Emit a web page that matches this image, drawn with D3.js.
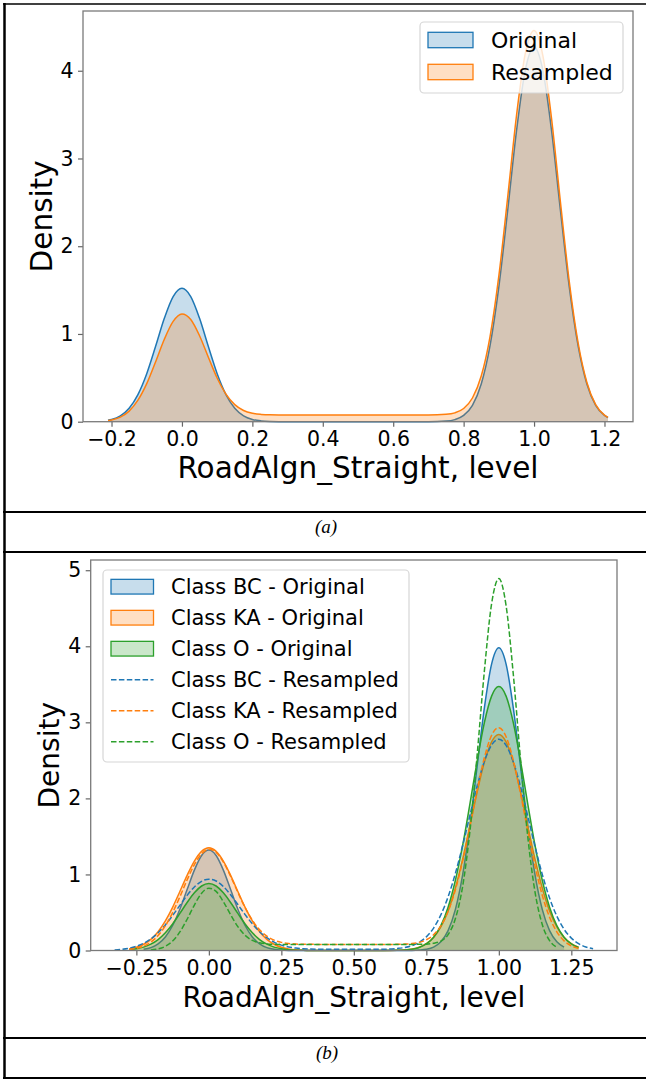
<!DOCTYPE html>
<html>
<head>
<meta charset="utf-8">
<script src="https://cdn.jsdelivr.net/npm/d3@7"></script>
<style>
body{margin:0;background:#fff;}
svg{display:block;font-family:"DejaVu Sans",sans-serif;}
</style>
</head>
<body>
<div id="plot"></div>
<script>
//Panel (a): density of RoadAlgn_Straight, original vs resampled
var xsA = [-0.21,-0.2,-0.175,-0.15,-0.125,-0.1,-0.075,-0.05,-0.025,0,0.025,0.05,0.075,0.1,0.125,0.15,0.175,0.2,0.225,0.25,
	0.3,0.4,0.5,0.6,0.7,0.75,0.775,0.8,0.825,0.85,0.875,0.9,0.925,0.95,0.975,1,1.025,1.05,1.075,1.1,1.125,1.15,1.175,1.2,1.21];
var originalA = [0.017,0.026,0.067,0.153,0.309,0.547,0.856,1.178,1.426,1.52,1.426,1.178,0.856,0.547,0.309,0.153,0.067,0.026,0.009,0.003,
	0,0,0,0,0,0.007,0.024,0.072,0.187,0.430,0.867,1.537,2.404,3.309,4.005,4.27,4.005,3.309,2.404,1.537,0.867,0.430,0.187,0.072,0.047];
var resampledA = [0.013,0.020,0.053,0.121,0.245,0.434,0.681,0.940,1.143,1.228,1.165,0.980,0.735,0.498,0.315,0.195,0.128,0.096,0.083,0.078,
	0.076,0.076,0.076,0.076,0.076,0.084,0.101,0.151,0.270,0.520,0.970,1.661,2.553,3.484,4.195,4.458,4.173,3.444,2.499,1.597,0.900,0.446,0.194,0.075,0.049];
var xTicksA = [-0.2,0,0.2,0.4,0.6,0.8,1.0,1.2];
var yTicksA = [0,1,2,3,4];
var labelsA = ['Original','Resampled'];

//Panel (b): same variable split by class
var xsB = [-0.325,-0.3,-0.275,-0.25,-0.225,-0.2,-0.175,-0.15,-0.125,-0.1,-0.075,-0.05,-0.025,0,0.025,0.05,0.075,0.1,0.125,0.15,
	0.175,0.2,0.225,0.25,0.275,0.3,0.325,0.35,0.4,0.5,0.6,0.65,0.675,0.7,0.725,0.75,0.775,0.8,0.825,0.85,
	0.875,0.9,0.925,0.95,0.975,1,1.025,1.05,1.075,1.1,1.125,1.15,1.175,1.2,1.225,1.25,1.275,1.3,1.325];
var bcOriginal = [null,null,null,null,0.015,0.038,0.087,0.178,0.329,0.543,0.801,1.057,1.249,1.32,1.249,1.057,0.801,0.543,0.329,0.178,
	0.087,0.038,0.015,0.005,0.001,0,0,0,0,0,0,0,0,0.001,0.005,0.015,0.044,0.114,0.261,0.537,
	0.991,1.636,2.416,3.188,3.765,3.98,3.765,3.188,2.416,1.636,0.991,0.537,0.261,0.114,0.044,null,null,null,null];
var kaOriginal = [null,null,0.020,0.042,0.082,0.147,0.247,0.389,0.568,0.776,0.988,1.176,1.304,1.35,1.304,1.176,0.988,0.776,0.568,0.389,
	0.247,0.147,0.082,0.042,0.020,0.009,0.004,0.001,0,0,0,0.003,0.008,0.019,0.043,0.089,0.172,0.310,0.520,0.818,
	1.196,1.633,2.079,2.474,2.743,2.84,2.743,2.474,2.079,1.633,1.196,0.818,0.520,0.310,0.172,0.089,0.043,null,null];
var oOriginal = [null,null,0.010,0.022,0.044,0.083,0.144,0.233,0.349,0.488,0.631,0.759,0.848,0.88,0.848,0.759,0.631,0.488,0.349,0.233,
	0.144,0.083,0.044,0.022,0.010,0.004,0.002,0.001,0,0,0,0.002,0.007,0.017,0.040,0.086,0.174,0.327,0.569,0.920,
	1.378,1.922,2.488,2.995,3.345,3.47,3.345,2.995,2.488,1.922,1.378,0.920,0.569,0.327,0.174,0.086,0.040,null,null];
var bcResampled = [0.008,0.016,0.030,0.055,0.094,0.152,0.233,0.336,0.460,0.594,0.725,0.835,0.910,0.938,0.914,0.841,0.733,0.604,0.472,0.350,
	0.247,0.168,0.110,0.071,0.046,0.032,0.024,0.020,0.016,0.016,0.017,0.027,0.039,0.063,0.106,0.179,0.295,0.468,0.705,1.012,
	1.377,1.772,2.159,2.485,2.702,2.778,2.698,2.479,2.151,1.762,1.365,0.998,0.690,0.452,0.279,0.163,0.090,0.047,0.023];
var kaResampled = [null,null,0.012,0.027,0.057,0.110,0.197,0.325,0.498,0.706,0.928,1.129,1.272,1.33,1.290,1.163,0.976,0.764,0.564,0.397,
	0.273,0.188,0.137,0.107,0.092,0.085,0.082,0.081,0.08,0.08,0.08,0.081,0.084,0.091,0.107,0.141,0.206,0.324,0.514,0.796,
	1.174,1.627,2.107,2.534,2.829,2.930,2.811,2.500,2.059,1.569,1.108,0.724,0.438,0.246,0.127,0.061,0.027,null,null];
var oResampled = [null,null,null,null,null,0.007,0.021,0.055,0.124,0.244,0.411,0.598,0.753,0.820,0.777,0.642,0.471,0.314,0.200,0.133,
	0.101,0.087,0.082,0.080,0.08,0.08,0.08,0.08,0.08,0.08,0.08,0.08,0.08,0.08,0.081,0.083,0.095,0.123,0.209,0.417,
	0.839,1.559,2.563,3.670,4.558,4.890,4.534,3.626,2.503,1.489,0.763,0.339,0.129,0.043,null,null,null,null,null];
var xTicksB = [-0.25,0,0.25,0.5,0.75,1.0,1.25];
var yTicksB = [0,1,2,3,4,5];
var labelsB = ['Class BC - Original','Class KA - Original','Class O - Original',
	'Class BC - Resampled','Class KA - Resampled','Class O - Resampled'];

var blue = '#1f77b4', orange = '#ff7f0e', green = '#2ca02c';

var W = 646, H = 1079;
var svg = d3.select('#plot')
	.append('svg')
	.attr('width',W)
	.attr('height',H);

//table borders round the two figures
var frame = svg.append('g').attr('stroke','#000');
frame.append('line').attr('x1',3).attr('x2',W).attr('y1',4).attr('y2',4).attr('stroke-width',1.5);
frame.append('line').attr('x1',4.5).attr('x2',4.5).attr('y1',3).attr('y2',1079).attr('stroke-width',2.5);
[512,552,1038,1078].forEach(function(yy){
	frame.append('line').attr('x1',3).attr('x2',W).attr('y1',yy).attr('y2',yy).attr('stroke-width',2);
});

svg.append('text').attr('x',326).attr('y',533).attr('text-anchor','middle')
	.style('font-family','"Liberation Serif",serif').style('font-style','italic').style('font-size','19px').text('(a)');
svg.append('text').attr('x',327).attr('y',1059).attr('text-anchor','middle')
	.style('font-family','"Liberation Serif",serif').style('font-style','italic').style('font-size','19px').text('(b)');

//padded domain like matplotlib (5% margins)
function pad(lo,hi){ var m=(hi-lo)*0.05; return [lo-m,hi+m]; }

function drawAxes(box, x, y, xTicks, yTicks, fmt, ylabX){
	var g = svg.append('g');
	g.append('g')
		.attr('transform','translate(0,'+box.b+')')
		.call(d3.axisBottom(x).tickValues(xTicks).tickSize(5).tickPadding(5).tickFormat(fmt));
	g.append('g')
		.attr('transform','translate('+box.l+',0)')
		.call(d3.axisLeft(y).tickValues(yTicks).tickSize(5).tickPadding(4.5).tickFormat(d3.format('d')));
	g.selectAll('.domain').remove();
	g.selectAll('.tick line').attr('stroke','#666').attr('stroke-width',1.2);
	g.selectAll('.tick text').attr('fill','#000').style('font-size','20.5px').style('font-family','"DejaVu Sans",sans-serif');
	g.append('rect')
		.attr('x',box.l).attr('y',box.t)
		.attr('width',box.r-box.l).attr('height',box.b-box.t)
		.attr('fill','none').attr('stroke','#7a7a7a').attr('stroke-width',1.3);
	g.append('text')
		.attr('x',(box.l+box.r)/2).attr('y',box.b+box.xl)
		.attr('text-anchor','middle').style('font-size',box.fs+'px')
		.text('RoadAlgn_Straight, level');
	g.append('text')
		.attr('transform','translate('+ylabX+','+(box.t+box.b)/2+') rotate(-90)')
		.attr('text-anchor','middle').style('font-size',box.fs+'px')
		.text('Density');
}

function drawKde(x, y, xs, vals, color, filled, dashed){
	var pts = xs.map(function(v,i){ return {x:v, y:vals[i]}; });
	var ok = function(d){ return d.y!=null; };
	if(filled){
		svg.append('path')
			.datum(pts)
			.attr('d', d3.area().defined(ok).curve(d3.curveMonotoneX)
				.x(function(d){return x(d.x);}).y0(y(0)).y1(function(d){return y(d.y);}))
			.attr('fill',color).attr('fill-opacity',0.25);
	}
	svg.append('path')
		.datum(pts)
		.attr('d', d3.line().defined(ok).curve(d3.curveMonotoneX)
			.x(function(d){return x(d.x);}).y(function(d){return y(d.y);}))
		.attr('fill','none').attr('stroke',color).attr('stroke-width',1.5)
		.attr('stroke-dasharray', dashed ? '5.5,2.4' : null);
}

function drawLegend(lb, items){
	var g = svg.append('g');
	g.append('rect')
		.attr('x',lb.x).attr('y',lb.y).attr('width',lb.w).attr('height',lb.h).attr('rx',4)
		.attr('fill','#fff').attr('fill-opacity',0.8).attr('stroke','#d6d6d6').attr('stroke-width',1.2);
	items.forEach(function(it,i){
		var cy = lb.row0 + i*lb.dy;
		if(it.dashed){
			g.append('line').attr('x1',lb.hx).attr('x2',lb.hx+lb.hw).attr('y1',cy).attr('y2',cy)
				.attr('stroke',it.color).attr('stroke-width',1.5).attr('stroke-dasharray','5.5,2.4');
		} else {
			g.append('rect').attr('x',lb.hx).attr('y',cy-lb.hh/2).attr('width',lb.hw).attr('height',lb.hh)
				.attr('fill',it.color).attr('fill-opacity',0.25).attr('stroke',it.color).attr('stroke-width',1.3);
		}
		g.append('text').attr('x',lb.tx).attr('y',cy).attr('dy','0.36em')
			.style('font-size',lb.fs+'px').text(it.label);
	});
}

//---- panel (a)
var boxA = {l:83, r:633, t:11, b:421.7, xl:56, fs:29.5};
var xA = d3.scaleLinear().domain(pad(d3.min(xsA),d3.max(xsA))).range([boxA.l,boxA.r]);
var yA = d3.scaleLinear().domain([0,d3.max(resampledA)*1.05]).range([boxA.b,boxA.t]);
drawKde(xA,yA,xsA,originalA,blue,true,false);
drawKde(xA,yA,xsA,resampledA,orange,true,false);
drawAxes(boxA,xA,yA,xTicksA,yTicksA,d3.format('.1f'),51.5);
drawLegend({x:420,y:22,w:203,h:71,row0:40,dy:32,hx:428,hw:45,hh:15.4,tx:491,fs:22},
	[{label:labelsA[0],color:blue},{label:labelsA[1],color:orange}]);

//---- panel (b)
var boxB = {l:90.7, r:617, t:560, b:950.5, xl:56, fs:28};
var xB = d3.scaleLinear().domain(pad(d3.min(xsB),d3.max(xsB))).range([boxB.l,boxB.r]);
var yB = d3.scaleLinear().domain([0,d3.max(oResampled)*1.05]).range([boxB.b,boxB.t]);
drawKde(xB,yB,xsB,bcOriginal,blue,true,false);
drawKde(xB,yB,xsB,kaOriginal,orange,true,false);
drawKde(xB,yB,xsB,oOriginal,green,true,false);
drawKde(xB,yB,xsB,bcResampled,blue,false,true);
drawKde(xB,yB,xsB,kaResampled,orange,false,true);
drawKde(xB,yB,xsB,oResampled,green,false,true);
drawAxes(boxB,xB,yB,xTicksB,yTicksB,d3.format('.2f'),59);
drawLegend({x:103,y:570,w:306,h:192,row0:586.7,dy:31,hx:111,hw:42.5,hh:14.7,tx:171,fs:21},
	[{label:labelsB[0],color:blue},{label:labelsB[1],color:orange},{label:labelsB[2],color:green},
	 {label:labelsB[3],color:blue,dashed:true},{label:labelsB[4],color:orange,dashed:true},{label:labelsB[5],color:green,dashed:true}]);
</script>
</body>
</html>
